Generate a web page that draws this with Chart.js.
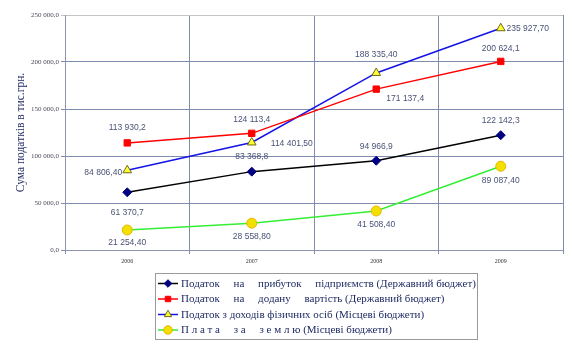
<!DOCTYPE html>
<html><head><meta charset="utf-8">
<script src="https://cdn.jsdelivr.net/npm/chart.js@4.4.1/dist/chart.umd.min.js"></script>
<style>html,body{margin:0;padding:0;background:#fff;}canvas{display:block;}</style>
</head><body>
<canvas id="c" width="572" height="344"></canvas>
<script>
const years = ['2006', '2007', '2008', '2009'];
const profitTax = [61370.7, 83368.8, 94966.9, 122142.3];
const vat = [113930.2, 124113.4, 171137.4, 200624.1];
const personalTax = [84806.4, 114401.5, 188335.4, 235927.7];
const landFee = [21254.4, 28558.8, 41508.4, 89087.4];
const yTicks = [0, 50000, 100000, 150000, 200000, 250000];
const seriesNames = [
  'Податок     на     прибуток     підприємств (Державний бюджет)',
  'Податок     на     додану     вартість (Державний бюджет)',
  'Податок з доходів фізичних осіб (Місцеві бюджети)',
  'П л а т а     з а     з е м л ю (Місцеві бюджети)'
];
const yTitle = 'Сума податків в тис.грн.';

function fmt(v, d) {
  const s = v.toFixed(d).split('.');
  const int = s[0].replace(/\B(?=(\d{3})+(?!\d))/g, ' ');
  return d > 0 ? int + ',' + s[1] : int;
}

// label offsets (dx, dy) relative to each point, per series
const labelOffsets = [
  [[0, 20], [0, -15], [0, -14], [0, -15]],
  [[0, -15], [0, -14], [29, 10], [0, -13]],
  [[-24, 2], [40, 1], [0, -18], [27, 0]],
  [[0, 13], [0, 14], [0, 14], [0, 14]]
];
const labelDecimals = [1, 1, 2, 2];

const dataLabelPlugin = {
  id: 'dl',
  afterDatasetsDraw(chart) {
    const ctx = chart.ctx;
    ctx.save();
    ctx.font = '8.5px "Liberation Sans", Arial, sans-serif';
    ctx.fillStyle = '#4a5276';
    ctx.textAlign = 'center';
    ctx.textBaseline = 'middle';
    chart.data.datasets.forEach((ds, i) => {
      const meta = chart.getDatasetMeta(i);
      meta.data.forEach((pt, j) => {
        const o = labelOffsets[i][j];
        ctx.fillText(fmt(ds.data[j], labelDecimals[i]), pt.x + o[0], pt.y + o[1]);
      });
    });
    ctx.restore();
  }
};

// justify a legend line to a target width by widening word gaps
function drawJustified(ctx, text, x, y, target) {
  const words = text.split(/\s+/);
  if (!target || words.length < 2) { ctx.fillText(text, x, y); return; }
  const total = words.reduce((a, w) => a + ctx.measureText(w).width, 0);
  const gap = (target - total) / (words.length - 1);
  let cx = x;
  words.forEach(w => { ctx.fillText(w, cx, y); cx += ctx.measureText(w).width + gap; });
}

const legendPlugin = {
  id: 'customLegend',
  afterDraw(chart) {
    const ctx = chart.ctx;
    ctx.save();
    ctx.strokeStyle = '#9a9a9a';
    ctx.lineWidth = 1;
    ctx.strokeRect(155.5, 273.5, 322, 66);
    const rows = [283.5, 299, 314.5, 330];
    chart.data.datasets.forEach((ds, i) => {
      const y = rows[i];
      ctx.strokeStyle = ds.borderColor;
      ctx.lineWidth = 1.5;
      ctx.beginPath();
      ctx.moveTo(158, y);
      ctx.lineTo(178, y);
      ctx.stroke();
      ctx.fillStyle = ds.pointBackgroundColor;
      ctx.strokeStyle = ds.pointBorderColor;
      ctx.lineWidth = 1;
      Chart.helpers.drawPoint(ctx, {
        pointStyle: ds.pointStyle,
        radius: ds.pointRadius * 0.85,
        rotation: 0,
        borderWidth: 1
      }, 168, y);
      ctx.font = '11px "Liberation Serif", "Times New Roman", serif';
      ctx.textBaseline = 'middle';
      ctx.textAlign = 'left';
      ctx.fillStyle = '#1f2b63';
      ctx.fillText(ds.label, 181, y + 0.5);
    });
    ctx.restore();
  }
};

new Chart(document.getElementById('c'), {
  type: 'line',
  data: {
    labels: years,
    datasets: [
      { label: seriesNames[0], data: profitTax, borderColor: '#000000', borderWidth: 1.5,
        pointStyle: 'rectRot', pointRadius: 4.5, pointBackgroundColor: '#000080', pointBorderColor: '#000080', pointBorderWidth: 1 },
      { label: seriesNames[1], data: vat, borderColor: '#ff0000', borderWidth: 1.5,
        pointStyle: 'rect', pointRadius: 4.5, pointBackgroundColor: '#ff0000', pointBorderColor: '#ff0000', pointBorderWidth: 1 },
      { label: seriesNames[2], data: personalTax, borderColor: '#1414e6', borderWidth: 1.5,
        pointStyle: 'triangle', pointRadius: 5, pointBackgroundColor: '#ffff33', pointBorderColor: '#6b6b1a', pointBorderWidth: 1 },
      { label: seriesNames[3], data: landFee, borderColor: '#33ee33', borderWidth: 1.5,
        pointStyle: 'circle', pointRadius: 5, pointBackgroundColor: '#f2e000', pointBorderColor: '#e8b400', pointBorderWidth: 1 }
    ]
  },
  options: {
    responsive: false,
    animation: false,
    devicePixelRatio: 1,
    layout: { padding: { left: 0, top: 15, right: 9, bottom: 74 } },
    plugins: { legend: { display: false }, tooltip: { enabled: false } },
    elements: { line: { tension: 0 } },
    scales: {
      x: {
        offset: true,
        grid: {
          offset: true,
          color: (c) => (c.index === 4 ? '#b4b4b4' : '#7f8cad'),
          lineWidth: 1,
          tickLength: 4,
          drawTicks: true
        },
        border: { color: '#8c94ac' },
        ticks: { font: { size: 6, family: '"Liberation Serif", serif' }, color: '#333', padding: 4 },
        afterFit: (s) => { s.height = 20; }
      },
      y: {
        min: 0, max: 250000,
        afterBuildTicks: (s) => { s.ticks = yTicks.map(v => ({ value: v })); },
        ticks: {
          font: { size: 7, family: '"Liberation Serif", serif' }, color: '#4a4a5a', padding: 2,
          callback: (v) => fmt(v, 1)
        },
        grid: {
          color: (c) => (c.tick && c.tick.value === 250000 ? '#c4c4c4' : '#7f8cad'),
          lineWidth: 1,
          tickLength: 4
        },
        border: { color: '#8c94ac' },
        title: {
          display: true, text: yTitle, color: '#1f2b63',
          font: { size: 11.5, family: '"Liberation Serif", serif' },
          padding: { top: 14, bottom: 0 }
        },
        afterFit: (s) => { s.width = 65; }
      }
    }
  },
  plugins: [dataLabelPlugin, legendPlugin]
});
</script>
</body></html>
